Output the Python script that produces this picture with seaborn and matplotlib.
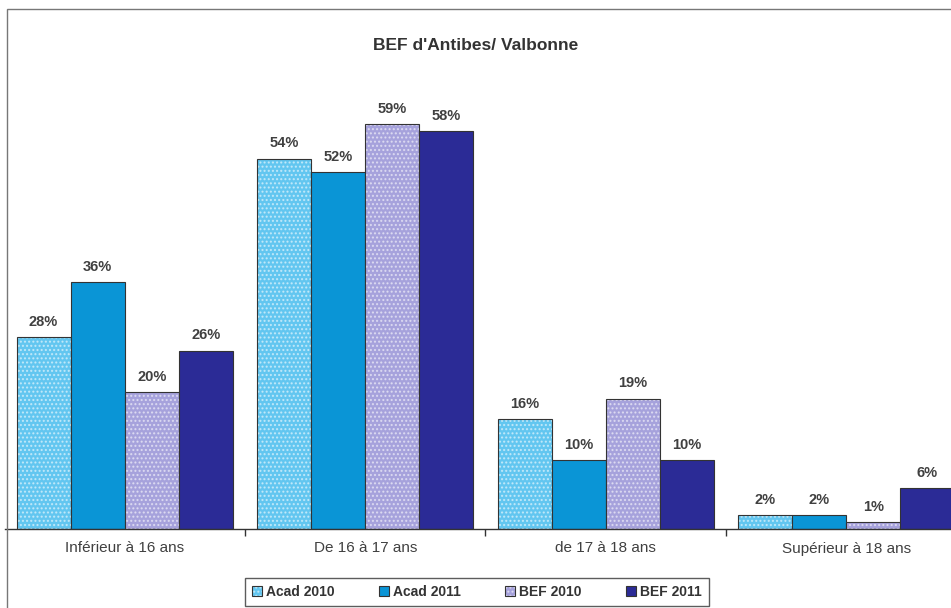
import numpy as np
import pandas as pd
import matplotlib
matplotlib.use('Agg')
import matplotlib.pyplot as plt
import matplotlib.patches as patches
from matplotlib.colors import to_rgba
from matplotlib.ticker import FixedLocator
import seaborn as sns

# data
categories = ['Inférieur à 16 ans', 'De 16 à 17 ans', 'de 17 à 18 ans', 'Supérieur à 18 ans']
series = ['Acad 2010', 'Acad 2011', 'BEF 2010', 'BEF 2011']
acad_2010 = [28, 54, 16, 2]
acad_2011 = [36, 52, 10, 2]
bef_2010 = [20, 59, 19, 1]
bef_2011 = [26, 58, 10, 6]

colors = ['#62c6f0', '#0a95d6', '#a6a2dc', '#2b2b96']
hatched = ['Acad 2010', 'BEF 2010']

df = pd.DataFrame({
    'cat': categories * 4,
    'serie': np.repeat(series, len(categories)),
    'val': acad_2010 + acad_2011 + bef_2010 + bef_2011,
})

sns.set_style('white')
plt.rcParams['font.family'] = ['Liberation Sans', 'DejaVu Sans']

fig = plt.figure(figsize=(9.51, 6.08), dpi=100)
fig.set_facecolor('white')
ax = fig.add_axes([4.5 / 951, 79 / 608, 962 / 951, 480 / 608])

sns.barplot(data=df, x='cat', y='val', hue='serie', hue_order=series,
            palette=colors, saturation=1, width=0.9, gap=0, errorbar=None,
            edgecolor='#333333', linewidth=0.8, ax=ax, legend=False)

for name, cont in zip(series, ax.containers):
    if name in hatched:
        for p in cont.patches:
            p.set_hatch('....')
            p._hatch_color = to_rgba('white', 0.55)
    ax.bar_label(cont, fmt='%d%%', padding=6, fontsize=10.5,
                 fontweight='bold', color='#404040')

ax.set_xlim(-0.5, 3.5)
ax.set_ylim(0, 70)
ax.set_xlabel('')
ax.set_ylabel('')
ax.set_yticks([])
for s in ['top', 'right', 'left']:
    ax.spines[s].set_visible(False)
ax.spines['bottom'].set_color('#333333')
ax.spines['bottom'].set_linewidth(1)
ax.xaxis.set_minor_locator(FixedLocator([0.5, 1.5, 2.5, 3.5]))
ax.tick_params(axis='x', which='major', length=0, pad=9, labelsize=11, labelcolor='#404040')
ax.tick_params(axis='x', which='minor', length=5, width=1, color='#333333', direction='out', bottom=True)

fig.text(0.5, 1 - 45 / 608, "BEF d'Antibes/ Valbonne", ha='center', va='center',
         fontsize=12.5, fontweight='bold', color='#333333')

leg = fig.legend(handles=list(ax.containers), labels=series, ncol=4,
                 loc='upper center', bbox_to_anchor=(477 / 951, 1 - 571 / 608),
                 frameon=True, fancybox=False, edgecolor='#333333',
                 handlelength=0.7, handleheight=0.7, handletextpad=0.3,
                 columnspacing=3.2, borderpad=0.5,
                 prop={'size': 10, 'weight': 'bold'})
leg.get_frame().set_linewidth(1)
for t in leg.get_texts():
    t.set_color('#333333')

# outer chart frame, cut off on the right and at the bottom
fig.add_artist(patches.Rectangle((7 / 951, -0.05), 2, 1.05 - 9 / 608,
                                 transform=fig.transFigure, fill=False,
                                 edgecolor='#777777', linewidth=1))

fig.savefig('out.png', dpi=100)
